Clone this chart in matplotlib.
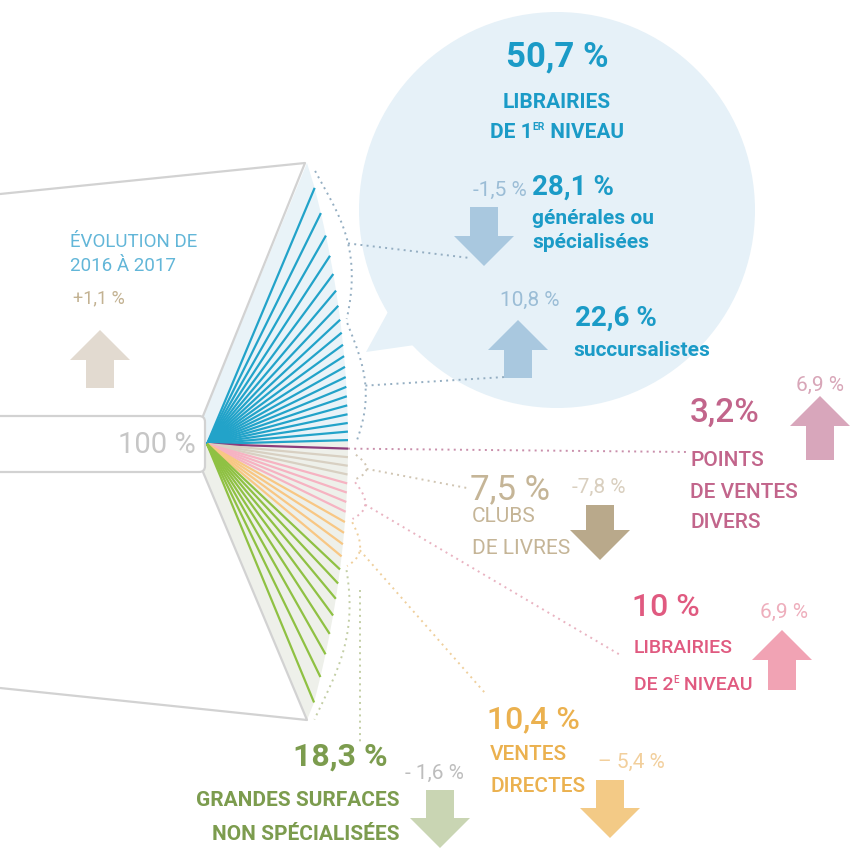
import numpy as np
import matplotlib.pyplot as plt
from matplotlib.patches import Circle, Polygon, FancyArrow, FancyBboxPatch

plt.rcParams['font.family'] = ['Roboto', 'DejaVu Sans']

shares = [50.7, 3.2, 7.5, 10.0, 10.4, 18.3]          # share of sales, %
changes = [None, 6.9, -7.8, 6.9, -5.4, -1.6]         # evolution 2016 -> 2017, %
n_lines = [20, 1, 3, 4, 4, 8]                        # fan lines per channel
line_colors = ['#22a3c9', '#8c3c7c', '#d8d0c2', '#f6b3c2', '#f8c784', '#8fc143']
sub_shares = [28.1, 22.6]                            # split of 1er niveau
sub_changes = [-1.5, 10.8]
sub_lines = [8, 12]
total_change = 1.1
change_labels = ['', '6,9 %', '-7,8 %', '6,9 %', '\u2013 5,4 %', '- 1,6 %']
sub_change_labels = ['-1,5 %', '10,8 %']


def pct(v, sep=' '):
    s = ('%.1f' % v).replace('.', ',')
    if s.endswith(',0'):
        s = s[:-2]
    return s + sep + '%'


fig = plt.figure(figsize=(8.51, 8.48), dpi=100)
ax = fig.add_axes([0, 0, 1, 1])
ax.set_xlim(0, 851)
ax.set_ylim(848, 0)
ax.axis('off')
renderer = fig.canvas.get_renderer()


def rich(x, y, parts, ha='left', **kw):
    # a line made of pieces of different size (for the superscripts)
    ts = [ax.text(0, y + dy, txt, fontsize=fs, ha='left', va='center', **kw)
          for txt, fs, dy in parts]
    ws = [tt.get_window_extent(renderer).width for tt in ts]
    x0 = x - sum(ws) / 2 if ha == 'center' else x
    for tt, w in zip(ts, ws):
        tt.set_x(x0)
        x0 += w


# ---- speech bubble ----
ax.add_patch(Circle((557, 210), 198, fc='#e6f1f8', ec='none', zorder=1))
ax.add_patch(Polygon([(400, 290), (366, 352), (450, 340)], closed=True,
                     fc='#e6f1f8', ec='none', zorder=1))

# ---- fan geometry ----
hx, hy = 207, 444
ang = np.radians(np.linspace(67.2, -67.5, sum(n_lines)))
c, s = np.cos(ang), np.sin(ang)
k = 0.000508
a = np.maximum(k * s ** 2, 1e-9)
t = (-c + np.sqrt(c ** 2 + 4 * a * 141)) / (2 * a)
ex, ey = hx + t * c, hy - t * s
grp = np.repeat(np.arange(len(n_lines)), n_lines)

# shaded wedges behind the lines
n0 = n_lines[0]
up = [(203, 416), (307, 163)] + list(zip(ex[:n0], ey[:n0])) + [(hx, hy)]
ax.add_patch(Polygon(up, closed=True, fc='#e9f3f8', ec='none', zorder=2))
lo = [(hx, hy)] + list(zip(ex[n0 - 1:], ey[n0 - 1:])) + [(307, 720), (203, 472)]
ax.add_patch(Polygon(lo, closed=True, fc='#eef0ea', ec='none', zorder=2))

# white box outline
box_c = '#d2d2d2'
ax.plot([0, 305, 203], [194, 163, 416], color=box_c, lw=1.6, zorder=3)
ax.plot([203, 307, 0], [472, 720, 688], color=box_c, lw=1.6, zorder=3)
ax.add_patch(FancyBboxPatch((-20, 416), 225, 56, boxstyle='round,pad=0,rounding_size=6',
                            fc='white', ec=box_c, lw=1.6, zorder=4))
ax.text(157, 445, '100 %', ha='center', va='center', fontsize=21, color='#c6c6c6', zorder=5)

for i in range(len(ex)):
    ax.plot([hx, ex[i]], [hy, ey[i]], color=line_colors[grp[i]], lw=1.6,
            solid_capstyle='butt', zorder=4)


def bracket(i0, i1, off=8, bulge=18):
    th = np.linspace(ang[i0] + np.radians(1.2), ang[i1] - np.radians(1.2), 60)
    cc, ss = np.cos(th), np.sin(th)
    aa = np.maximum(k * ss ** 2, 1e-9)
    tt = (-cc + np.sqrt(cc ** 2 + 4 * aa * 141)) / (2 * aa)
    u = np.linspace(0, 1, 60)
    r = tt + off + bulge * np.sin(np.pi * u)
    return hx + r * cc, hy - r * ss


dot = (0, (1, 2.2))
# blue sub brackets + leaders
starts = np.cumsum([0] + sub_lines)
targets = [(470, 258), (505, 377)]
for j in range(2):
    bx, by = bracket(starts[j], starts[j + 1] - 1, bulge=20 if j == 0 else 12)
    ax.plot(bx, by, color='#94aec2', lw=1.4, ls=dot, zorder=3)
    m = len(bx) // 2
    ax.plot([bx[m], targets[j][0]], [by[m], targets[j][1]], color='#94aec2', lw=1.4,
            ls=dot, zorder=3)

# other channels
gstart = np.cumsum([0] + n_lines)
lead_c = ['', '#c98fab', '#d0c5b2', '#e9b3c1', '#efcf9c', '#c3cea5']
lead_t = [None, (688, 452), (467, 488), (622, 656), (485, 693), None]
for g in range(1, len(n_lines)):
    i0, i1 = gstart[g], gstart[g + 1] - 1
    if i0 == i1:
        ax.plot([ex[i0], lead_t[g][0]], [ey[i0], lead_t[g][1]], color=lead_c[g],
                lw=1.4, ls=dot, zorder=3)
        continue
    bx, by = bracket(i0, i1, off=8, bulge=8 + n_lines[g])
    ax.plot(bx, by, color=lead_c[g], lw=1.4, ls=dot, zorder=3)
    m = len(bx) // 2
    if lead_t[g] is not None:
        ax.plot([bx[m], lead_t[g][0]], [by[m], lead_t[g][1]], color=lead_c[g], lw=1.4,
                ls=dot, zorder=3)
    else:
        ax.plot([360, 360], [590, 742], color=lead_c[g], lw=1.4, ls=dot, zorder=3)


def arrow(x, ytop, ybot, v, color):
    # up arrow for a rise, down arrow for a fall
    y0, y1 = (ybot, ytop) if v > 0 else (ytop, ybot)
    ax.add_patch(FancyArrow(x, y0, 0, y1 - y0, width=28, head_width=60, head_length=30,
                            length_includes_head=True, fc=color, ec='none', zorder=5))


small = dict(fontsize=15, va='center', zorder=6)
label = dict(fontsize=15, va='center', zorder=6)

# ---- left legend ----
ax.text(70, 242, 'ÉVOLUTION DE', fontsize=13.5, color='#62b6d8', va='center')
ax.text(70, 266, '2016 À 2017', fontsize=13.5, color='#62b6d8', va='center')
ax.text(73, 298, '+' + pct(total_change), fontsize=13, color='#c3b292', va='center')
arrow(100, 330, 388, total_change, '#e2dad0')

# ---- 1er niveau (bubble) ----
blue = '#1b9bc7'
ax.text(557, 57, pct(shares[0]), ha='center', va='center', fontsize=25,
        fontweight='bold', color=blue, zorder=6)
ax.text(557, 103, 'LIBRAIRIES', ha='center', fontweight='bold', color=blue, **label)
rich(557, 132, [('DE 1', 15, 0), ('ER', 7.5, -5), (' NIVEAU', 15, 0)], ha='center',
     fontweight='bold', color=blue, zorder=6)

# générales ou spécialisées
ax.text(527, 190, sub_change_labels[0], ha='right', color='#9bbdd6', **small)
ax.text(532, 187, pct(sub_shares[0]), ha='left', va='center', fontsize=20,
        fontweight='bold', color=blue, zorder=6)
ax.text(532, 218, 'générales ou', ha='left', fontweight='bold', color=blue, **label)
ax.text(532, 243, 'spécialisées', ha='left', fontweight='bold', color=blue, **label)
arrow(484, 207, 266, sub_changes[0], '#a9c8df')
# succursalistes
ax.text(530, 300, sub_change_labels[1], ha='center', color='#9bbdd6', **small)
ax.text(575, 318, pct(sub_shares[1]), ha='left', va='center', fontsize=20,
        fontweight='bold', color=blue, zorder=6)
ax.text(573, 350, 'succursalistes', ha='left', fontweight='bold', color=blue, **label)
arrow(518, 320, 378, sub_changes[1], '#a9c8df')

# ---- points de ventes divers ----
mauve = '#c2658b'
ax.text(690, 413, pct(shares[1], ''), ha='left', va='center', fontsize=24,
        fontweight='medium', color=mauve)
for y, line in zip([460, 492, 522], ['POINTS', 'DE VENTES', 'DIVERS']):
    ax.text(690, y, line, ha='left', fontweight='medium', color=mauve, **label)
ax.text(820, 385, change_labels[1], ha='center', color='#d8a6b8', **small)
arrow(820, 396, 460, changes[1], '#d8a6bb')

# ---- clubs de livres ----
tan = '#c5b597'
ax.text(470, 490, pct(shares[2]), ha='left', va='center', fontsize=25, color=tan)
ax.text(572, 487, change_labels[2], ha='left', color='#d9cfbf', **small)
ax.text(472, 517, 'CLUBS', ha='left', color=tan, **label)
ax.text(472, 549, 'DE LIVRES', ha='left', color=tan, **label)
arrow(600, 505, 560, changes[2], '#b9a98b')

# ---- librairies de 2e niveau ----
pink = '#e05a80'
ax.text(632, 608, pct(shares[3]), ha='left', va='center', fontsize=23,
        fontweight='medium', color=pink)
ax.text(634, 648, 'LIBRAIRIES', ha='left', fontsize=14, va='center',
        fontweight='medium', color=pink)
rich(634, 685, [('DE 2', 14, 0), ('E', 7, -5), (' NIVEAU', 14, 0)],
     fontweight='medium', color=pink, zorder=6)
ax.text(784, 612, change_labels[3], ha='center', color='#eeaebc', **small)
arrow(782, 630, 690, changes[3], '#f1a3b4')

# ---- ventes directes ----
orange = '#ebb14f'
ax.text(487, 720, pct(shares[4]), ha='left', va='center', fontsize=23,
        fontweight='medium', color=orange)
ax.text(490, 755, 'VENTES', ha='left', fontweight='medium', color=orange, **label)
ax.text(490, 787, 'DIRECTES', ha='left', fontweight='medium', color=orange, **label)
ax.text(598, 762, change_labels[4], ha='left', color='#f2cf9c', **small)
arrow(610, 780, 838, changes[4], '#f3ca86')

# ---- grandes surfaces ----
green = '#7c9c4e'
ax.text(340, 757, pct(shares[5]), ha='center', va='center', fontsize=23,
        fontweight='bold', color=green)
ax.text(400, 800, 'GRANDES SURFACES', ha='right', fontweight='bold', color=green, **label)
ax.text(400, 835, 'NON SPÉCIALISÉES', ha='right', fontweight='bold', color=green, **label)
ax.text(405, 773, change_labels[5], ha='left', color='#bdbdbd', **small)
arrow(440, 790, 848, changes[5], '#c9d5b3')

fig.savefig('out.png', dpi=100)
